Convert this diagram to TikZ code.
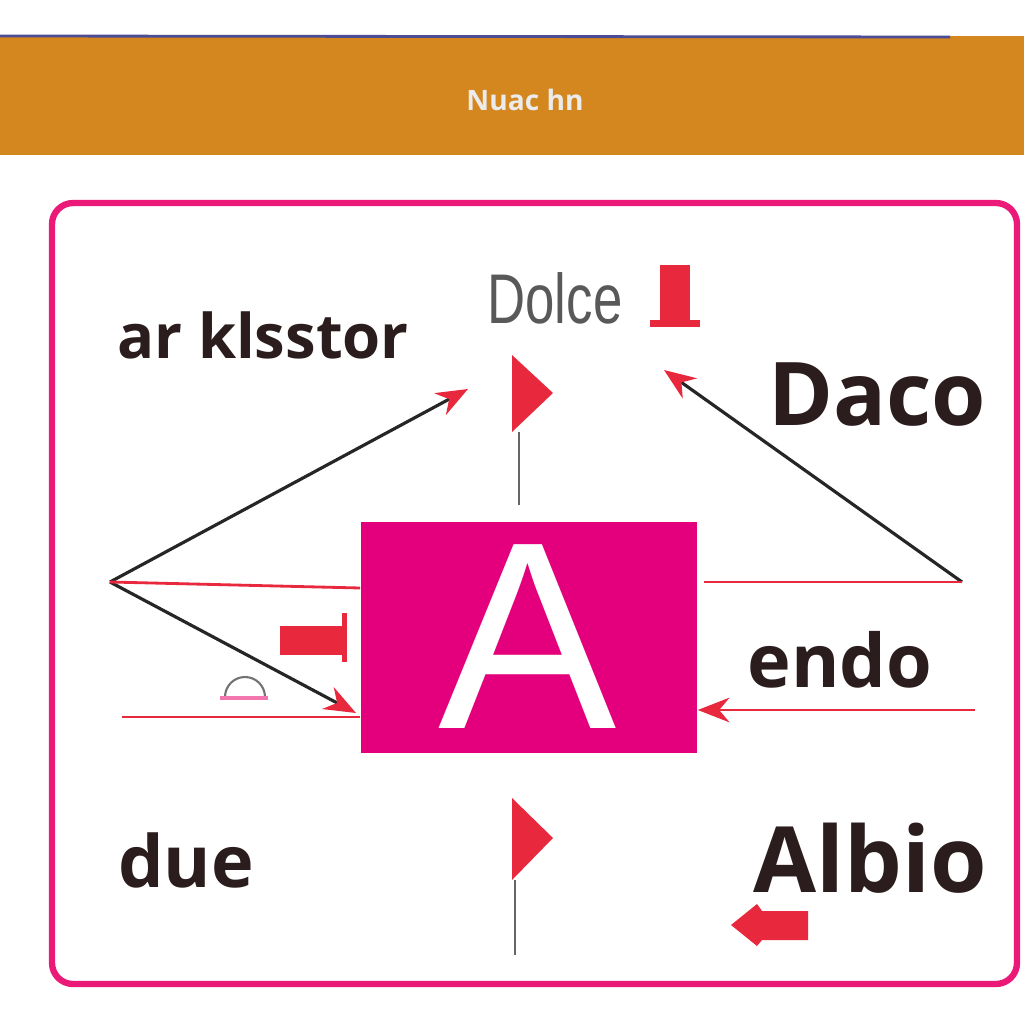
\documentclass[tikz,border=0pt]{standalone}
\usepackage{fontspec}
\setmainfont{Open Sans}
\newfontfamily\thinfont{Liberation Sans}
\usepackage{tikz}
\usetikzlibrary{positioning, arrows, arrows.meta}

\definecolor{headorange}{HTML}{D4861F}
\definecolor{framepink}{HTML}{EB1A78}
\definecolor{boxpink}{HTML}{E4007C}
\definecolor{flagred}{HTML}{E8283C}
\definecolor{inkdark}{HTML}{2B1D1D}

\tikzset{
  label/.style={text=inkdark, font=\bfseries, inner sep=0pt},
  redline/.style={draw=flagred, line width=0.8pt},
  blackline/.style={draw=black!85, line width=0.9pt},
  pole/.style={draw=black!60, line width=0.6pt},
  redtip/.style={-{Stealth[flagred, length=9pt, width=7pt]}},
}

\begin{document}
\begin{tikzpicture}[x=0.01cm, y=-0.01cm]
\useasboundingbox (0,0) rectangle (1024,1024);
\fill[white] (0,0) rectangle (1024,1024);

% header band
\fill[headorange] (0,36) rectangle (1024,155);
\draw[black!60!blue!70, line width=0.8pt] (0,36) -- (950,37);
\node[text=white!92!black, font=\bfseries\fontsize{8}{8}\selectfont] (title) at (525,100) {Nuac hn};

% frame and central box
\draw[framepink, line width=1.8pt, rounded corners=6pt] (52,203) rectangle (1017,984);
\node[fill=boxpink, minimum width=3.36cm, minimum height=2.31cm, inner sep=0pt] (box) at (529,637.5) {};
\node[text=white, font=\thinfont\fontsize{76}{76}\selectfont, inner sep=0pt] (bigA) at (528,637) {A};

% labels
\node[label, font=\bfseries\fontsize{17.5}{17.5}\selectfont] (arkl) at (263,335) {ar klsstor};
\node[text=black!65, font=\thinfont\fontsize{20}{20}\selectfont, inner sep=0pt] (dolce) at (555,298) {\scalebox{0.75}[1]{Dolce}};
\node[label, font=\bfseries\fontsize{25}{25}\selectfont] (daco) at (877,395) {Daco};
\node[label, font=\bfseries\fontsize{21}{21}\selectfont] (endo) at (840,660) {endo};
\node[label, font=\bfseries\fontsize{20.5}{20.5}\selectfont] (due) at (186,860) {due};
\node[label, font=\bfseries\fontsize{26}{26}\selectfont] (albio) at (870,858) {Albio};

% red markers
\fill[flagred] (660,265) rectangle (690,322);
\fill[flagred] (650,320) rectangle (700,327);
\fill[flagred] (280,626) rectangle (342,655);
\fill[flagred] (342,613) rectangle (347,662);
\fill[flagred] (808,911) -- (762,911) -- (757,904) -- (731,925) -- (757,946) -- (762,940) -- (808,940) -- cycle;

% flags
\coordinate (flagA) at (512,432);
\coordinate (poleA) at (519,505);
\fill[flagred] (512,355) -- (553,393) -- (flagA) -- cycle;
\draw[pole] (519,432) -- (poleA);
\coordinate (flagB) at (512,880);
\coordinate (poleB) at (515,955);
\fill[flagred] (512,798) -- (553,838) -- (flagB) -- cycle;
\draw[pole] (515,880) -- (poleB);

% connectors
\coordinate (apex) at (110,582);
\coordinate (upend) at (468,389);
\coordinate (downend) at (356,713);
\coordinate (rapex) at (962,582);
\coordinate (rtop) at (664,370);
\coordinate (rtail) at (975,710);
\coordinate (ltail) at (122,717);
\draw[blackline, redtip] (apex) -- (upend);
\draw[blackline, redtip] (apex) -- (downend);
\draw[redline] (apex) -- (box.west |- 0,588);
\draw[blackline, redtip] (rapex) -- (rtop);
\draw[redline] (box.east |- 0,582) ++(6,0) -- (rapex);
\draw[redline, redtip] (rtail) -- (box.east |- rtail);
\draw[redline] (ltail) -- (box.west |- ltail);

% sketch
\draw[black!55, line width=0.6pt] (225,697) arc (180:360:20);
\draw[framepink!60, line width=1pt] (220,698) -- (268,698);
\end{tikzpicture}
\end{document}
